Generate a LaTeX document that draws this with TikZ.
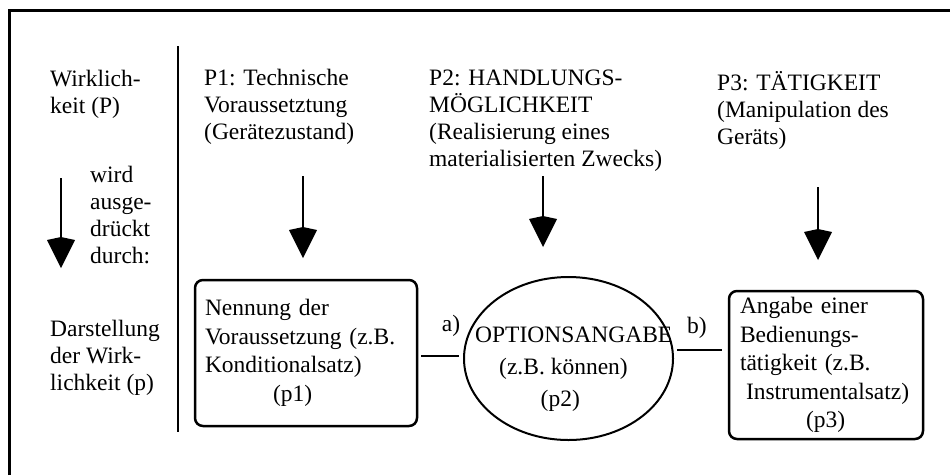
\documentclass[tikz,border=0pt]{standalone}
\usepackage{fontspec}
\setmainfont{Liberation Serif}
\usetikzlibrary{arrows.meta,shapes.geometric}
\begin{document}
\begin{tikzpicture}[x=1pt,y=-1pt,
  txt/.style={inner sep=0pt, align=left, anchor=west, font=\fontsize{23.5pt}{27pt}\selectfont},
  boxtxt/.style={draw, line width=2.5pt, rounded corners=8pt, inner sep=0pt, align=left, font=\fontsize{23.5pt}{28.5pt}\selectfont},
  bigarrow/.style={line width=2.5pt, -{Kite[length=31pt,width=28pt,inset=3pt]}},
  conn/.style={line width=2.5pt},
  lbl/.style={inner sep=0pt, font=\fontsize{23.5pt}{27pt}\selectfont}]
\useasboundingbox (0,0) rectangle (950,475);
% frame
\draw[line width=3pt] (9,475) -- (9,10) -- (950,10);
% divider
\coordinate (d1) at (178,46);
\coordinate (d2) at (178,432);
\draw[line width=2.5pt] (d1) -- (d2);
% left column
\node[txt] (wirk) at (50,94.5) {Wirklich-\\keit (P)};
\node[txt] (wird) at (90,215) {wird\\ausge-\\drückt\\durch:};
\node[txt] (dar) at (50,358) {Darstellung\\der Wirk-\\lichkeit (p)};
\coordinate (s0) at (61,178);
\coordinate (e0) at (61,268);
\draw[bigarrow] (s0) -- (e0);
% top labels
\node[txt] (P1) at (204,107) {P1: Technische\\Voraussetztung\\(Gerätezustand)};
\node[txt] (P2) at (429,120.5) {P2: HANDLUNGS-\\MÖGLICHKEIT\\(Realisierung eines\\materialisierten Zwecks)};
\node[txt] (P3) at (717,110) {P3: TÄTIGKEIT\\(Manipulation des\\Geräts)};
% arrows
\coordinate (s1) at (303,176);
\coordinate (e1) at (303,258);
\draw[bigarrow] (s1) -- (e1);
\coordinate (s2) at (543,176);
\coordinate (e2) at (543,247);
\draw[bigarrow] (s2) -- (e2);
\coordinate (s3) at (818,187);
\coordinate (e3) at (818,260);
\draw[bigarrow] (s3) -- (e3);
% boxes
\node[boxtxt, minimum width=222pt, minimum height=146pt, text width=202pt] (b1) at (306,353)
  {Nennung der\\Voraussetzung (z.B.\\Konditionalsatz)\\\hspace*{68pt}(p1)};
\node[draw, ellipse, line width=2pt, inner sep=0pt, minimum width=209pt, minimum height=163pt] (ell) at (568.5,358.5) {};
\node[inner sep=0pt, align=left, anchor=west, font=\fontsize{23.5pt}{32pt}\selectfont] (et) at (475,369.5)
  {OPTIONSANGABE\\\hspace*{24pt}(z.B. können)\\\hspace*{65.5pt}(p2)};
\node[boxtxt, minimum width=194pt, minimum height=148pt, text width=172pt] (b3) at (826,365)
  {Angabe einer\\Bedienungs-\\tätigkeit (z.B.\\\hspace*{6pt}Instrumentalsatz)\\\hspace*{66pt}(p3)};
% connectors
\coordinate (ea) at ([yshift=2.5pt]ell.west);
\coordinate (eb) at ([yshift=8.5pt]ell.east);
\draw[conn, shorten <=3pt, shorten >=4pt] (b1.east |- ea) -- (ea);
\draw[conn, shorten <=3pt, shorten >=6pt] (eb) -- (eb -| b3.west);
\node[lbl] (la) at (451,326) {a)};
\node[lbl] (lb) at (697,328) {b)};
\end{tikzpicture}
\end{document}
